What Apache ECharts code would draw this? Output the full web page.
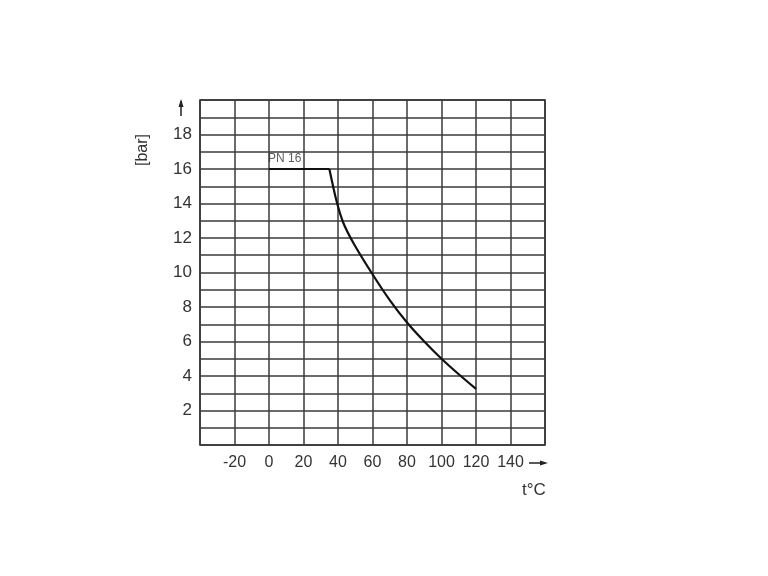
<!DOCTYPE html>
<html><head><meta charset="utf-8">
<script src="https://cdn.jsdelivr.net/npm/echarts@6/dist/echarts.min.js"></script>
<style>html,body{margin:0;padding:0;background:#fff}#c{width:768px;height:576px}</style>
</head><body><div id="c"></div>
<script>
const flatSegment = [[0,16],[35,16]];
const curveSegment = [[35,16],[39,14.2],[43,12.9],[49,11.7],[60,9.9],[70,8.4],[80,7.1],[90,6.0],[100,5.0],[110,4.1],[120,3.25]];
const xTickLabels = [-20,0,20,40,60,80,100,120,140];
const yTickLabels = [2,4,6,8,10,12,14,16,18];
const ratingLabel = 'PN 16';

const chart = echarts.init(document.getElementById('c'));
const gridColor = '#3a3a3a';
const font = 'Liberation Sans, Arial';
chart.setOption({
  animation:false,
  backgroundColor:'#fff',
  grid:{left:200,top:100,width:345,height:345,show:true,borderColor:'#222',borderWidth:1.5},
  xAxis:{type:'value',min:-40,max:160,interval:20,
    axisLine:{show:false},axisTick:{show:false},
    splitLine:{show:true,lineStyle:{color:gridColor,width:1.5}},
    axisLabel:{margin:10,color:'#333',fontFamily:font,fontSize:16,
      formatter:v=>xTickLabels.includes(v)?String(v):''}},
  yAxis:{type:'value',min:0,max:20,interval:1,
    axisLine:{show:false},axisTick:{show:false},
    splitLine:{show:true,lineStyle:{color:gridColor,width:1.5}},
    axisLabel:{margin:8,color:'#333',fontFamily:font,fontSize:17,
      formatter:v=>yTickLabels.includes(v)?String(v):''}},
  series:[
    {type:'line',data:flatSegment,showSymbol:false,lineStyle:{color:'#111',width:2.2},z:5},
    {type:'line',data:curveSegment,showSymbol:false,smooth:0.25,lineStyle:{color:'#111',width:2.2},z:5},
    {type:'scatter',data:[[0,16]],symbolSize:1,itemStyle:{color:'rgba(0,0,0,0)'},
      label:{show:true,formatter:ratingLabel,position:'top',align:'left',offset:[-1,1],
        color:'#333',fontSize:12,fontFamily:font},z:6}
  ],
  graphic:[
    {type:'line',shape:{x1:181,y1:116,x2:181,y2:101},style:{stroke:'#222',lineWidth:1.5}},
    {type:'polygon',shape:{points:[[181,99],[178.5,107],[183.5,107]]},style:{fill:'#222'}},
    {type:'text',x:143,y:150,rotation:Math.PI/2,style:{text:'[bar]',fill:'#333',fontSize:16,fontFamily:font,align:'center',verticalAlign:'middle'}},
    {type:'line',shape:{x1:529,y1:463,x2:545,y2:463},style:{stroke:'#222',lineWidth:1.5}},
    {type:'polygon',shape:{points:[[548,463],[540,460.5],[540,465.5]]},style:{fill:'#222'}},
    {type:'text',x:534,y:490,style:{text:'t°C',fill:'#333',fontSize:17,fontFamily:font,align:'center',verticalAlign:'middle'}}
  ]
});
</script></body></html>
